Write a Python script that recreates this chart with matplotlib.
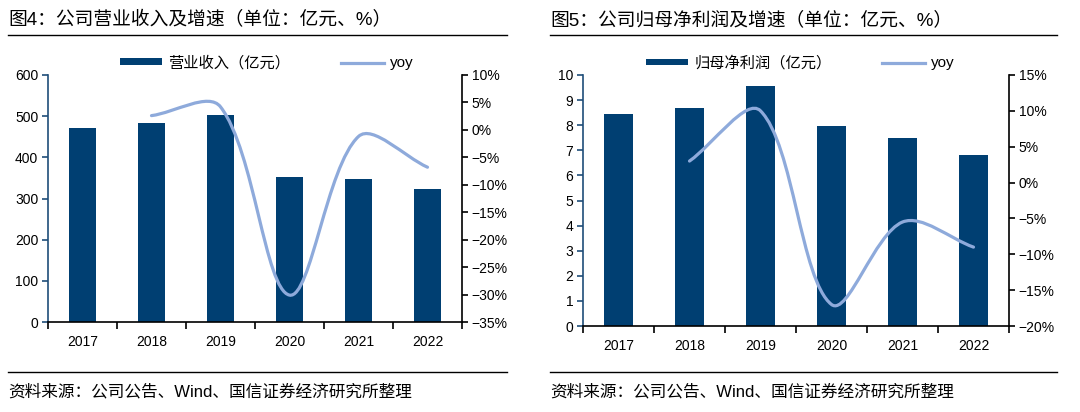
import numpy as np
import matplotlib
matplotlib.use("Agg")
import matplotlib.pyplot as plt
from matplotlib.path import Path
from matplotlib.patches import PathPatch, Patch
from matplotlib.lines import Line2D
from matplotlib.ticker import FixedLocator, FuncFormatter

plt.rcParams['font.family'] = ['Liberation Sans', 'Noto Sans CJK SC', 'DejaVu Sans']

years = ["2017", "2018", "2019", "2020", "2021", "2022"]

# 营业收入 (亿元) and yoy (%)
revenue = [472, 484, 504, 352, 347, 322]
revenue_yoy = [2.6, 4.2, -30.1, -1.2, -6.8]   # 2018-2022

# 归母净利润 (亿元) and yoy (%)
profit = [8.45, 8.70, 9.57, 7.95, 7.50, 6.83]
profit_yoy = [3.0, 10.0, -17.0, -5.5, -9.0]    # 2018-2022

BAR = "#003F72"
LINE = "#8EAADB"
SPINE_L = "#1F4E79"


def smooth_path(ax, xs, ys):
    # excel-like smoothed line: bezier segments, control points built in pixel space
    tr = ax.transData
    pts = tr.transform(np.column_stack([xs, ys]).astype(float))
    n = len(pts)
    verts = [pts[0]]
    codes = [Path.MOVETO]

    def ctrl(prev, cur, nxt, seg):
        d0 = np.hypot(*(cur - prev))
        d1 = np.hypot(*(nxt - cur))
        if d0 + d1 == 0:
            return np.zeros(2)
        return (nxt - prev) * seg / (d0 + d1) / 3.0

    for i in range(n - 1):
        p0 = pts[i - 1] if i > 0 else pts[i]
        p1, p2 = pts[i], pts[i + 1]
        p3 = pts[i + 2] if i + 2 < n else pts[i + 1]
        seg = np.hypot(*(p2 - p1))
        c1 = p1 + ctrl(p0, p1, p2, seg)
        c2 = p2 - ctrl(p1, p2, p3, seg)
        verts += [c1, c2, p2]
        codes += [Path.CURVE4] * 3
    verts = tr.inverted().transform(np.array(verts))
    return Path(verts, codes)


def pct(v, _):
    return f"{v:.0f}%".replace("-", "\u2212")


def panel(rect, bars, yoy, ylim, yticks, y2lim, y2ticks, bar_label, legend_xy):
    ax = fig.add_axes(rect)
    x = np.arange(len(years))
    ax.bar(x, bars, width=0.4, color=BAR, zorder=2)
    ax.set_xlim(-0.5, len(years) - 0.5)
    ax.set_ylim(*ylim)
    ax.set_yticks(yticks)
    ax.xaxis.set_major_locator(FixedLocator(np.arange(-0.5, len(years), 1.0)))
    ax.xaxis.set_major_formatter(FuncFormatter(lambda v, _: ""))
    ax.xaxis.set_minor_locator(FixedLocator(x))
    ax.set_xticklabels(years, minor=True)
    ax.tick_params(axis="x", which="major", length=5, width=1.2, direction="out")
    ax.tick_params(axis="x", which="minor", length=0, pad=9, labelsize=10)
    ax.tick_params(axis="y", length=4, width=1.2, pad=3, labelsize=10, color=SPINE_L)
    for s in ("top", "right"):
        ax.spines[s].set_visible(False)
    ax.spines["left"].set_color(SPINE_L)
    ax.spines["left"].set_linewidth(1.2)
    ax.spines["bottom"].set_linewidth(1.2)
    ax.spines["bottom"].set_zorder(5)

    ax2 = ax.twinx()
    ax2.set_ylim(*y2lim)
    ax2.set_yticks(y2ticks)
    ax2.yaxis.set_major_formatter(FuncFormatter(pct))
    ax2.tick_params(axis="y", length=4, width=1.2, pad=3, labelsize=10)
    for s in ("top", "left", "bottom"):
        ax2.spines[s].set_visible(False)
    ax2.spines["right"].set_linewidth(1.2)
    ax2.add_patch(PathPatch(smooth_path(ax2, x[1:], yoy), facecolor="none",
                            edgecolor=LINE, lw=2.3, capstyle="round", zorder=3))

    handles = [Patch(facecolor=BAR, edgecolor="none"),
               Line2D([0], [0], color=LINE, lw=2.3)]
    fig.legend(handles, [bar_label, "yoy"], ncol=2, frameon=False,
               loc="center left", bbox_to_anchor=legend_xy,
               fontsize=11, handlelength=2.8, handleheight=0.3,
               handletextpad=0.4, columnspacing=3.3, borderpad=0)
    return ax, ax2


fig = plt.figure(figsize=(10.8, 4.12), dpi=100)

panel([48 / 1080, 1 - 322 / 412, 414 / 1080, 247 / 412],
      revenue, revenue_yoy, (0, 600), range(0, 601, 100),
      (-35, 10), range(-35, 11, 5), "营业收入（亿元）", (112 / 1080, 1 - 63 / 412))

panel([583 / 1080, 1 - 326 / 412, 426 / 1080, 251 / 412],
      profit, profit_yoy, (0, 10), range(0, 11, 1),
      (-20, 15), range(-20, 16, 5), "归母净利润（亿元）", (638 / 1080, 1 - 63 / 412))

# titles, rules and source notes
fig.text(8 / 1080, 1 - 20 / 412, "图4：公司营业收入及增速（单位：亿元、%）",
         fontsize=13.5, va="center", ha="left")
fig.text(550 / 1080, 1 - 20 / 412, "图5：公司归母净利润及增速（单位：亿元、%）",
         fontsize=13.5, va="center", ha="left")
for x0, x1 in ((8, 507), (550, 1057)):
    for yy in (35, 372):
        fig.add_artist(Line2D([x0 / 1080, x1 / 1080], [1 - yy / 412, 1 - yy / 412],
                              color="black", lw=1.0))
fig.text(8 / 1080, 1 - 392 / 412, "资料来源：公司公告、Wind、国信证券经济研究所整理",
         fontsize=12, va="center", ha="left")
fig.text(550 / 1080, 1 - 392 / 412, "资料来源：公司公告、Wind、国信证券经济研究所整理",
         fontsize=12, va="center", ha="left")

fig.savefig("out.png", dpi=100)
